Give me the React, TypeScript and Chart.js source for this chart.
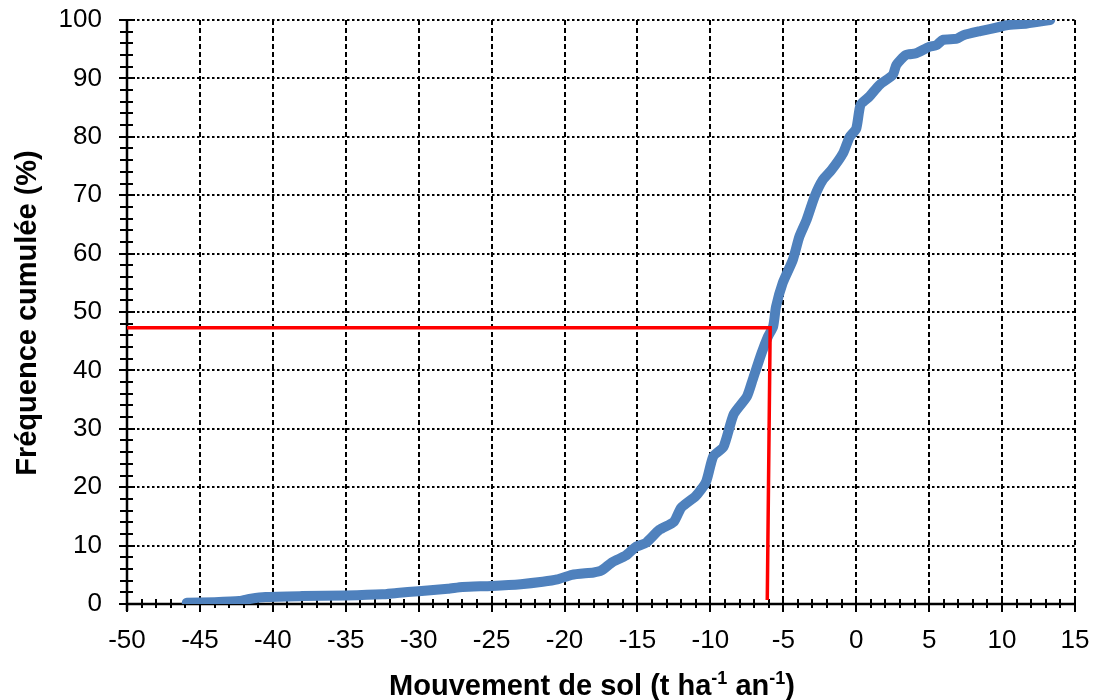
import React, { useEffect, useRef } from "react";
import { Chart, registerables } from "chart.js";

Chart.register(...registerables);

// Cumulative frequency curve (x = soil movement, y = cumulative %)
const curveX = [
  -45.9, -44.0, -42.3, -41.5, -40.5, -38.0, -35.0, -32.5, -31.5, -30.0,
  -28.0, -27.0, -25.0, -23.0, -21.5, -20.5, -19.5, -18.0, -17.5, -16.7,
  -15.8, -15.1, -14.4, -13.5, -12.5, -12.0, -11.0, -10.3, -9.8, -9.1,
  -8.4, -7.5, -7.1, -6.5, -6.05, -5.7, -5.5, -5.05, -4.35, -3.9,
  -3.4, -2.85, -2.3, -1.7, -0.9, -0.45, 0.0, 0.3, 0.9, 1.6,
  2.5, 2.75, 3.4, 4.1, 5.0, 5.5, 5.95, 6.9, 7.35, 8.5,
  9.8, 10.3, 11.7, 13.3,
];
const curveY = [
  0.2, 0.3, 0.5, 0.9, 1.2, 1.35, 1.45, 1.65, 1.9, 2.2,
  2.6, 2.9, 3.1, 3.4, 3.8, 4.2, 5.0, 5.4, 5.7, 7.2,
  8.3, 9.8, 10.5, 12.7, 14.1, 16.5, 18.5, 20.9, 25.3, 26.9,
  32.5, 35.5, 38.4, 42.9, 45.8, 47.5, 50.9, 54.9, 58.9, 62.9,
  65.8, 69.8, 72.6, 74.3, 77.2, 80.0, 81.4, 85.5, 86.9, 88.9,
  90.6, 92.3, 94.0, 94.3, 95.4, 95.7, 96.6, 96.8, 97.4, 98.1,
  98.8, 99.1, 99.4, 100,
];

// Red reading line (median)
const medianX = [-50, -5.9, -6.1];
const medianY = [47.3, 47.3, 0.7];

// Axes
const X_MIN = -50;
const X_MAX = 15;
const X_STEP = 5;
const X_MINOR = 1;
const Y_MIN = 0;
const Y_MAX = 100;
const Y_STEP = 10;
const Y_MINOR = 2;

const yTitle = "Fréquence cumulée (%)";
const xTitleParts: [string, boolean][] = [
  ["Mouvement de sol (t ha", false],
  ["-1", true],
  [" an", false],
  ["-1", true],
  [")", false],
];

const FONT = "'Liberation Sans', Arial, sans-serif";

const axesPlugin = {
  id: "customAxes",
  beforeDatasetsDraw(chart: any) {
    const { ctx, chartArea: a, scales } = chart;
    const x = scales.x;
    const y = scales.y;
    ctx.save();
    ctx.strokeStyle = "#000";
    // vertical dashed grid
    ctx.lineWidth = 2;
    ctx.setLineDash([5, 3]);
    for (const t of x.ticks) {
      if (t.value === X_MIN) continue;
      const px = Math.round(x.getPixelForValue(t.value));
      ctx.beginPath();
      ctx.moveTo(px, a.top);
      ctx.lineTo(px, a.bottom);
      ctx.stroke();
    }
    // horizontal dotted grid
    ctx.lineWidth = 2;
    ctx.setLineDash([2.5, 2.5]);
    for (const t of y.ticks) {
      if (t.value === Y_MIN) continue;
      const py = Math.round(y.getPixelForValue(t.value));
      ctx.beginPath();
      ctx.moveTo(a.left, py);
      ctx.lineTo(a.right, py);
      ctx.stroke();
    }
    ctx.setLineDash([]);
    // axis lines
    ctx.lineWidth = 2.5;
    ctx.beginPath();
    ctx.moveTo(a.left, a.bottom);
    ctx.lineTo(a.right, a.bottom);
    ctx.stroke();
    ctx.beginPath();
    ctx.moveTo(a.left, a.top);
    ctx.lineTo(a.left, a.bottom + 7);
    ctx.stroke();
    // x ticks
    ctx.lineWidth = 2;
    for (let v = X_MIN; v <= X_MAX + 1e-9; v += X_MINOR) {
      const px = Math.round(x.getPixelForValue(v));
      const major = Math.abs(v % X_STEP) < 1e-9;
      ctx.beginPath();
      ctx.moveTo(px, a.bottom - (major ? 8 : 5));
      ctx.lineTo(px, a.bottom + (major ? 8 : 4));
      ctx.stroke();
    }
    // y ticks
    for (let v = Y_MIN; v <= Y_MAX + 1e-9; v += Y_MINOR) {
      const py = Math.round(y.getPixelForValue(v));
      const major = Math.abs(v % Y_STEP) < 1e-9;
      ctx.beginPath();
      ctx.moveTo(a.left - (major ? 8 : 7), py);
      ctx.lineTo(a.left + (major ? 8 : 6), py);
      ctx.stroke();
    }
    ctx.restore();
  },
  afterDraw(chart: any) {
    const { ctx, chartArea: a } = chart;
    ctx.save();
    ctx.fillStyle = "#000";
    // y title
    ctx.save();
    ctx.translate(36, (a.top + a.bottom) / 2 + 1);
    ctx.rotate(-Math.PI / 2);
    ctx.font = `bold 29px ${FONT}`;
    ctx.textAlign = "center";
    ctx.textBaseline = "alphabetic";
    ctx.fillText(yTitle, 0, 0);
    ctx.restore();
    // x title with superscripts
    const mainFont = `bold 29px ${FONT}`;
    const supFont = `bold 18px ${FONT}`;
    let total = 0;
    for (const [s, sup] of xTitleParts) {
      ctx.font = sup ? supFont : mainFont;
      total += ctx.measureText(s).width;
    }
    let cx = 592 - total / 2;
    const base = 695;
    ctx.textAlign = "left";
    ctx.textBaseline = "alphabetic";
    for (const [s, sup] of xTitleParts) {
      ctx.font = sup ? supFont : mainFont;
      ctx.fillText(s, cx, sup ? base - 11 : base);
      cx += ctx.measureText(s).width;
    }
    ctx.restore();
  },
};

export default function App() {
  const ref = useRef<HTMLCanvasElement | null>(null);
  useEffect(() => {
    if (!ref.current) return;
    const chart = new Chart(ref.current, {
      type: "line",
      data: {
        datasets: [
          {
            label: "Médiane",
            data: medianX.map((v, i) => ({ x: v, y: medianY[i] })),
            borderColor: "#FF0000",
            borderWidth: 3.5,
            pointRadius: 0,
            tension: 0,
            order: 0,
          },
          {
            label: "Fréquence cumulée",
            data: curveX.map((v, i) => ({ x: v, y: curveY[i] })),
            borderColor: "#4F81BD",
            borderWidth: 10,
            pointRadius: 0,
            tension: 0.2,
            borderCapStyle: "round",
            borderJoinStyle: "round",
            order: 1,
          },
        ],
      },
      options: {
        responsive: false,
        animation: false,
        layout: { padding: { top: 20, right: 21, left: 0, bottom: 0 } },
        plugins: { legend: { display: false }, tooltip: { enabled: false } },
        scales: {
          x: {
            type: "linear",
            min: X_MIN,
            max: X_MAX,
            grid: { display: false },
            border: { display: false },
            ticks: {
              stepSize: X_STEP,
              padding: 13,
              color: "#000",
              font: { family: FONT, size: 26 },
              maxRotation: 0,
            },
            afterFit: (s: any) => {
              s.height = 96;
              s.paddingLeft = 0;
              s.paddingRight = 0;
            },
          },
          y: {
            type: "linear",
            min: Y_MIN,
            max: Y_MAX,
            grid: { display: false },
            border: { display: false },
            ticks: {
              stepSize: Y_STEP,
              padding: 17,
              color: "#000",
              font: { family: FONT, size: 26 },
            },
            afterFit: (s: any) => {
              s.width = 127;
              s.paddingTop = 0;
              s.paddingBottom = 0;
            },
          },
        },
      },
      plugins: [axesPlugin],
    } as any);
    return () => chart.destroy();
  }, []);
  return (
    <div style={{ position: "absolute", left: 0, top: 0, width: 1096, height: 700, background: "#fff" }}>
      <canvas ref={ref} width={1096} height={700} style={{ width: 1096, height: 700, display: "block" }} />
    </div>
  );
}
